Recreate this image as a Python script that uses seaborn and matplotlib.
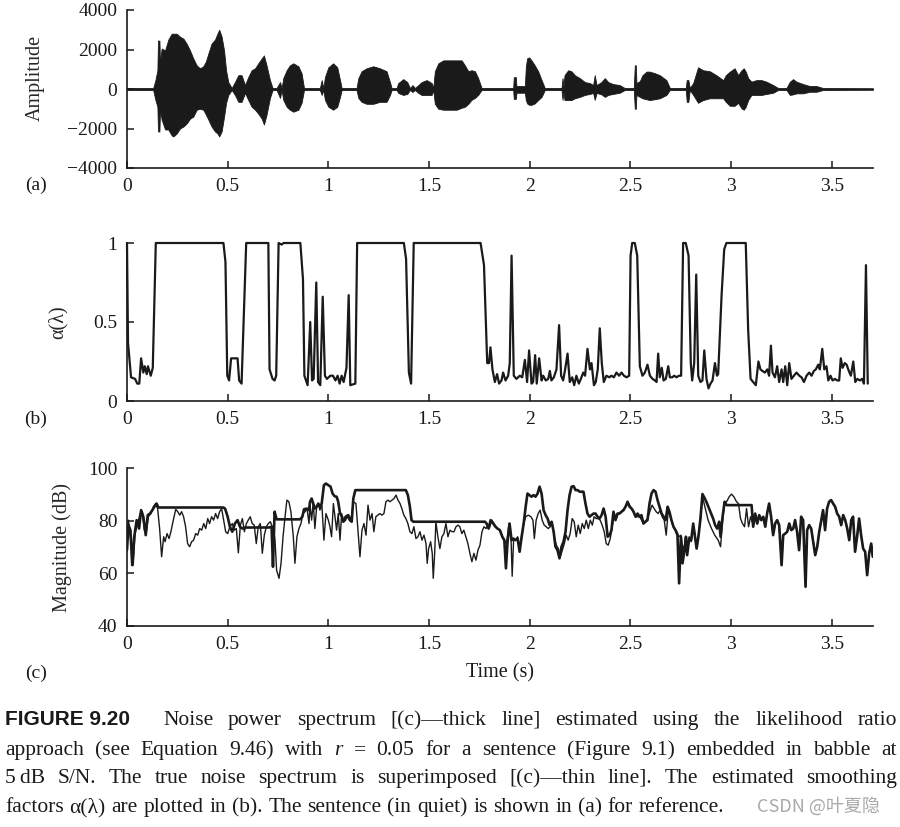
import numpy as np
import pandas as pd
import seaborn as sns
import matplotlib.pyplot as plt
from matplotlib.ticker import FuncFormatter

# (a) speech waveform, read as upper/lower envelope (amplitude)
wave_t = [0.000, 0.130, 0.141, 0.151, 0.154, 0.161, 0.164, 0.172, 0.189, 0.205, 0.222, 0.230, 0.247,
          0.263, 0.280, 0.296, 0.313, 0.329, 0.346, 0.362, 0.379, 0.392, 0.404, 0.420, 0.437, 0.449,
          0.458, 0.470, 0.482, 0.492, 0.503, 0.520, 0.536, 0.553, 0.569, 0.586, 0.602, 0.619, 0.636,
          0.652, 0.669, 0.680, 0.693, 0.710, 0.723, 0.743, 0.760, 0.768, 0.776, 0.793, 0.809, 0.826,
          0.851, 0.867, 0.879, 0.958, 0.967, 0.975, 0.983, 1.000, 1.024, 1.044, 1.058, 1.066, 1.140,
          1.149, 1.165, 1.190, 1.223, 1.256, 1.289, 1.306, 1.314, 1.339, 1.347, 1.372, 1.392, 1.405,
          1.418, 1.430, 1.447, 1.463, 1.488, 1.513, 1.521, 1.529, 1.546, 1.571, 1.604, 1.637, 1.662,
          1.678, 1.695, 1.711, 1.728, 1.744, 1.761,
          1.900, 1.918, 1.921, 1.931, 1.934, 1.976, 1.981, 1.987, 1.997, 2.009, 2.025, 2.042, 2.059,
          2.075, 2.158, 2.163, 2.168, 2.173, 2.191, 2.207, 2.224, 2.249, 2.274, 2.299, 2.315, 2.323,
          2.332, 2.356, 2.373, 2.390, 2.414, 2.447, 2.472, 2.517, 2.522, 2.527, 2.530, 2.547, 2.560,
          2.580, 2.596, 2.621, 2.646, 2.679, 2.696, 2.775, 2.780, 2.788, 2.795, 2.812, 2.836, 2.861,
          2.894, 2.927, 2.961, 2.974, 2.994, 3.018, 3.035, 3.052, 3.063, 3.073, 3.085, 3.101, 3.126,
          3.151, 3.176, 3.209, 3.234, 3.275, 3.292, 3.308, 3.325, 3.358, 3.391, 3.424, 3.457, 3.705]
wave_hi = [50, 50, 450, 950, 2450, 2450, 1300, 2050, 1950, 2500, 2800, 2800, 2800,
           2650, 2550, 2300, 1950, 1550, 1200, 1050, 1150, 1400, 1800, 2300, 2500, 2800,
           3000, 2650, 1950, 950, 350, 50, 350, 700, 700, 200, 600, 950, 1050,
           1300, 1550, 1700, 1200, 450, 50, 50, 350, 50, 550, 950, 1200, 1300,
           1150, 800, 50, 50, 450, 50, 600, 1100, 1300, 1100, 450, 50, 50,
           550, 900, 1050, 1150, 1050, 900, 350, 50, 50, 300, 500, 350, 50,
           200, 50, 200, 350, 450, 300, 50, 900, 1300, 1450, 1450, 1450, 1450,
           1200, 900, 950, 900, 550, 50,
           50, 50, 600, 600, 150, 150, 1130, 1550, 1600, 1450, 1200, 900, 450,
           50, 50, 550, 150, 700, 950, 900, 700, 550, 350, 300, 200, 700,
           200, 350, 550, 350, 250, 200, 50, 50, 1200, 1200, 300, 400, 700,
           880, 880, 800, 700, 450, 50, 50, 450, 450, 50, 300, 1100, 950,
           900, 700, 450, 700, 880, 1050, 700, 950, 1050, 880, 550, 370, 450,
           450, 370, 200, 50, 50, 370, 500, 370, 250, 150, 150, 50, 40]
wave_lo = [-50, -50, -550, -900, -2150, -2150, -1050, -1550, -2050, -2050, -2350, -2400, -2250,
           -2000, -1900, -1750, -1500, -1400, -1050, -1000, -1050, -1300, -1550, -1900, -2150, -2250,
           -2400, -2150, -1400, -700, -300, -50, -300, -650, -650, -200, -550, -900, -1050,
           -1250, -1500, -1800, -1300, -450, -50, -50, -450, -50, -550, -900, -1050, -1150,
           -1050, -700, -50, -50, -300, -50, -550, -900, -1050, -900, -400, -50, -50,
           -450, -650, -750, -750, -650, -650, -300, -50, -50, -200, -300, -250, -50,
           -150, -50, -200, -300, -300, -300, -50, -750, -1000, -1050, -1050, -1050, -950,
           -900, -750, -550, -450, -300, -50,
           -50, -50, -500, -500, -190, -190, -560, -730, -800, -800, -730, -560, -400,
           -50, -50, -550, -150, -560, -560, -560, -470, -400, -300, -250, -200, -550,
           -200, -270, -400, -300, -250, -190, -50, -50, -1000, -1000, -300, -400, -470,
           -520, -560, -520, -470, -300, -50, -50, -650, -650, -50, -300, -700, -560,
           -470, -470, -470, -650, -850, -850, -700, -980, -1050, -900, -560, -300, -300,
           -300, -250, -190, -50, -50, -300, -270, -220, -220, -140, -140, -50, -40]

# (b) estimated smoothing factor alpha(lambda)
alpha_t = [0.000, 0.005, 0.020, 0.040, 0.051, 0.061, 0.070, 0.081, 0.088, 0.098, 0.104, 0.118, 0.128,
           0.143, 0.479, 0.489, 0.498, 0.507, 0.517, 0.537, 0.549, 0.557, 0.569, 0.592, 0.702, 0.708,
           0.723, 0.733, 0.741, 0.753, 0.768, 0.778, 0.861, 0.874, 0.881, 0.897, 0.910, 0.919, 0.927,
           0.940, 0.949, 0.960, 0.972, 0.983, 0.993, 1.010, 1.023, 1.035, 1.046, 1.056, 1.066, 1.076,
           1.090, 1.101, 1.109, 1.134, 1.143, 1.375, 1.386, 1.400, 1.411, 1.424, 1.756, 1.773, 1.789,
           1.798, 1.805, 1.815, 1.827, 1.838, 1.848, 1.860, 1.868, 1.880, 1.893, 1.901, 1.910, 1.921,
           1.934, 1.951, 1.963, 1.976, 1.987, 1.997, 2.009, 2.017, 2.027, 2.035, 2.047, 2.059, 2.067,
           2.080, 2.092, 2.100, 2.108, 2.120, 2.133, 2.146, 2.156, 2.166, 2.176, 2.188, 2.199, 2.211,
           2.221, 2.232, 2.244, 2.254, 2.266, 2.275, 2.287, 2.299, 2.307, 2.319, 2.328, 2.338, 2.348,
           2.358, 2.368, 2.381, 2.395, 2.406, 2.418, 2.431, 2.444, 2.456, 2.468, 2.481, 2.494, 2.501,
           2.509, 2.522, 2.534, 2.547, 2.560, 2.572, 2.585, 2.597, 2.610, 2.622, 2.630, 2.638, 2.646,
           2.656, 2.665, 2.676, 2.688, 2.696, 2.708, 2.718, 2.729, 2.741, 2.752, 2.762, 2.775, 2.789,
           2.800, 2.807, 2.817, 2.827, 2.837, 2.848, 2.858, 2.867, 2.878, 2.888, 2.898, 2.908, 2.920,
           2.930, 2.936, 2.953, 2.966, 2.977, 3.073, 3.085, 3.097, 3.110, 3.123, 3.136, 3.146, 3.156,
           3.168, 3.180, 3.189, 3.198, 3.206, 3.218, 3.229, 3.239, 3.251, 3.259, 3.269, 3.279, 3.289,
           3.300, 3.312, 3.325, 3.339, 3.350, 3.362, 3.375, 3.388, 3.400, 3.411, 3.421, 3.433, 3.441,
           3.453, 3.463, 3.474, 3.483, 3.494, 3.504, 3.516, 3.527, 3.537, 3.545, 3.554, 3.565, 3.574,
           3.585, 3.595, 3.607, 3.617, 3.627, 3.640, 3.651, 3.660, 3.670, 3.679]
alpha_v = [1.00, 0.37, 0.15, 0.14, 0.11, 0.11, 0.27, 0.18, 0.22, 0.17, 0.22, 0.16, 0.21,
           1.00, 1.00, 0.88, 0.16, 0.13, 0.27, 0.27, 0.27, 0.13, 0.11, 1.00, 1.00, 0.20,
           0.14, 0.13, 0.16, 1.00, 0.99, 1.00, 1.00, 0.77, 0.16, 0.10, 0.50, 0.13, 0.14,
           0.75, 0.12, 0.10, 0.66, 0.16, 0.14, 0.16, 0.16, 0.13, 0.16, 0.11, 0.16, 0.12,
           0.21, 0.67, 0.10, 0.11, 1.00, 1.00, 0.90, 0.18, 0.11, 1.00, 1.00, 0.86, 0.24,
           0.24, 0.34, 0.20, 0.12, 0.17, 0.11, 0.13, 0.18, 0.13, 0.16, 0.24, 0.92, 0.16,
           0.14, 0.16, 0.15, 0.26, 0.12, 0.32, 0.11, 0.12, 0.29, 0.11, 0.27, 0.13, 0.16,
           0.13, 0.14, 0.19, 0.13, 0.15, 0.20, 0.48, 0.16, 0.13, 0.20, 0.30, 0.12, 0.15,
           0.10, 0.16, 0.11, 0.14, 0.18, 0.16, 0.33, 0.20, 0.24, 0.10, 0.12, 0.20, 0.46,
           0.24, 0.12, 0.16, 0.15, 0.16, 0.15, 0.18, 0.16, 0.18, 0.16, 0.15, 0.16, 0.92,
           1.00, 1.00, 0.92, 0.22, 0.16, 0.18, 0.23, 0.16, 0.14, 0.13, 0.12, 0.30, 0.15,
           0.21, 0.13, 0.14, 0.22, 0.15, 0.15, 0.16, 0.15, 0.16, 0.16, 1.00, 1.00, 0.92,
           0.24, 0.13, 0.24, 0.80, 0.16, 0.12, 0.13, 0.32, 0.14, 0.08, 0.11, 0.13, 0.24,
           0.16, 0.17, 0.67, 0.96, 1.00, 1.00, 0.45, 0.14, 0.12, 0.10, 0.25, 0.20, 0.19,
           0.18, 0.20, 0.16, 0.35, 0.18, 0.15, 0.22, 0.12, 0.20, 0.12, 0.22, 0.10, 0.24,
           0.14, 0.16, 0.18, 0.16, 0.15, 0.12, 0.16, 0.18, 0.16, 0.19, 0.20, 0.23, 0.20,
           0.33, 0.20, 0.22, 0.13, 0.16, 0.13, 0.14, 0.13, 0.13, 0.27, 0.21, 0.24, 0.23,
           0.19, 0.16, 0.25, 0.12, 0.14, 0.13, 0.14, 0.11, 0.86, 0.11]

# (c) estimated noise spectrum (thick) and true noise spectrum (thin), dB
est_t = [0.000, 0.007, 0.017, 0.026, 0.036, 0.048, 0.060, 0.070, 0.081, 0.093, 0.103, 0.114, 0.126,
         0.136, 0.147, 0.156, 0.478, 0.487, 0.500, 0.511, 0.523, 0.536, 0.549, 0.561, 0.573, 0.586,
         0.705, 0.718, 0.725, 0.733, 0.743, 0.859, 0.871, 0.879, 0.892, 0.904, 0.909, 0.917, 0.925,
         0.933, 0.942, 0.950, 0.958, 0.967, 0.978, 0.988, 1.000, 1.011, 1.021, 1.031, 1.041, 1.049,
         1.058, 1.068, 1.074, 1.082, 1.091, 1.099, 1.107, 1.116, 1.124, 1.134, 1.385, 1.395, 1.405,
         1.413, 1.422, 1.778, 1.786, 1.796, 1.806, 1.819, 1.830, 1.840, 1.852, 1.864, 1.874, 1.882,
         1.890, 1.900, 1.910, 1.920, 1.930, 1.940, 1.950, 1.960, 1.970, 1.980, 1.989, 1.999, 2.009,
         2.019, 2.029, 2.039, 2.049, 2.059, 2.069, 2.079, 2.089, 2.099, 2.109, 2.119, 2.128, 2.138,
         2.148, 2.158, 2.168, 2.178, 2.188, 2.198, 2.208, 2.218, 2.228, 2.238, 2.248, 2.258, 2.267,
         2.277, 2.287, 2.297, 2.307, 2.317, 2.327, 2.337, 2.347, 2.357, 2.367, 2.377, 2.387, 2.397,
         2.406, 2.416, 2.426, 2.436, 2.446, 2.456, 2.466, 2.476, 2.486, 2.496, 2.506, 2.516, 2.526,
         2.536, 2.546, 2.555, 2.565, 2.575, 2.585, 2.595, 2.605, 2.615, 2.625, 2.635, 2.645, 2.655,
         2.665, 2.675, 2.685, 2.694, 2.704, 2.714, 2.724, 2.734, 2.742, 2.751, 2.759, 2.771, 2.776,
         2.782, 2.792, 2.802, 2.812, 2.820, 2.829, 2.838, 2.848, 2.858, 2.870, 2.881, 2.891, 2.901,
         2.911, 2.921, 2.931, 2.941, 2.948, 2.958, 2.968, 2.978, 3.102, 3.110, 3.120, 3.130, 3.140,
         3.150, 3.160, 3.170, 3.179, 3.189, 3.199, 3.209, 3.219, 3.229, 3.239, 3.251, 3.259, 3.269,
         3.279, 3.289, 3.299, 3.309, 3.318, 3.328, 3.338, 3.348, 3.358, 3.370, 3.378, 3.388, 3.398,
         3.408, 3.418, 3.428, 3.438, 3.448, 3.457, 3.467, 3.477, 3.487, 3.497, 3.507, 3.517, 3.527,
         3.537, 3.547, 3.557, 3.567, 3.577, 3.587, 3.597, 3.606, 3.616, 3.626, 3.636, 3.646, 3.656,
         3.666, 3.676, 3.686, 3.696, 3.704]
est_db = [68.8, 78.3, 76.4, 63.1, 73.9, 80.2, 77.0, 84.0, 81.5, 74.5, 82.1, 82.7, 84.0,
          85.3, 86.5, 85.0, 85.0, 84.6, 81.5, 77.7, 75.8, 78.9, 80.2, 77.7, 77.0, 77.4,
          77.4, 77.7, 62.5, 83.4, 80.5, 80.5, 81.5, 84.3, 84.6, 84.0, 87.2, 88.4, 86.5,
          84.6, 85.3, 86.5, 85.3, 86.5, 93.5, 94.1, 93.5, 92.9, 90.3, 89.3, 89.1, 87.2,
          82.7, 81.5, 79.6, 80.2, 81.5, 82.1, 80.2, 79.6, 88.4, 91.6, 91.6, 89.7, 85.3,
          80.2, 79.6, 79.6, 78.9, 77.0, 80.2, 78.9, 77.7, 77.0, 76.4, 73.9, 72.6, 61.9,
          72.0, 78.9, 72.6, 73.2, 72.6, 73.2, 68.2, 73.9, 78.9, 85.3, 90.3, 89.7, 89.1,
          89.7, 89.1, 90.3, 92.9, 90.3, 84.0, 82.1, 80.8, 78.3, 79.6, 75.8, 70.1, 68.8,
          65.7, 70.1, 72.0, 75.8, 84.0, 89.7, 92.9, 93.1, 91.6, 91.6, 91.0, 91.0, 91.0,
          86.5, 82.7, 81.5, 82.1, 82.7, 82.7, 81.5, 80.8, 82.1, 84.6, 81.5, 73.9, 74.5,
          76.4, 83.4, 80.2, 82.7, 82.7, 83.4, 84.0, 85.3, 87.2, 85.3, 84.6, 83.4, 81.5,
          82.7, 81.5, 82.1, 78.9, 79.6, 80.2, 86.5, 90.3, 91.6, 91.0, 87.8, 85.3, 82.7,
          81.5, 80.2, 85.3, 83.4, 80.2, 77.7, 76.4, 74.5, 56.2, 73.9, 63.8, 70.1, 73.9,
          66.9, 73.2, 72.6, 78.9, 74.5, 69.4, 73.9, 80.8, 90.1, 88.4, 86.5, 84.6, 82.7,
          80.8, 78.3, 77.0, 79.6, 73.9, 81.5, 87.2, 85.9, 85.9, 77.7, 82.7, 78.9, 82.1,
          80.2, 81.5, 77.7, 82.7, 86.5, 81.5, 74.5, 78.9, 80.2, 78.3, 63.1, 74.5, 75.1,
          75.8, 78.9, 76.4, 77.0, 80.2, 75.8, 68.8, 81.5, 80.2, 54.9, 76.4, 78.3, 77.0,
          72.0, 66.9, 70.1, 75.8, 80.2, 84.0, 76.4, 84.6, 87.2, 87.8, 86.5, 85.3, 82.7,
          81.5, 78.3, 82.1, 80.2, 77.0, 72.6, 80.2, 81.5, 68.2, 73.9, 80.8, 74.5, 69.4,
          68.2, 59.3, 67.6, 71.3, 66.3]

true_t = [0.000, 0.007, 0.013, 0.023, 0.031, 0.040, 0.053, 0.065, 0.076, 0.086, 0.096, 0.106, 0.119,
          0.131, 0.142, 0.152, 0.162, 0.172, 0.182, 0.189, 0.199, 0.209, 0.218, 0.230, 0.242, 0.252,
          0.262, 0.271, 0.281, 0.291, 0.301, 0.311, 0.321, 0.331, 0.341, 0.351, 0.361, 0.371, 0.381,
          0.391, 0.401, 0.410, 0.420, 0.430, 0.440, 0.450, 0.460, 0.470, 0.480, 0.490, 0.500, 0.511,
          0.523, 0.533, 0.543, 0.553, 0.563, 0.573, 0.583, 0.593, 0.602, 0.612, 0.622, 0.632, 0.642,
          0.652, 0.662, 0.672, 0.682, 0.692, 0.702, 0.712, 0.728, 0.735, 0.743, 0.755, 0.765, 0.775,
          0.785, 0.794, 0.804, 0.814, 0.826, 0.834, 0.844, 0.854, 0.864, 0.874, 0.884, 0.894, 0.904,
          0.909, 0.917, 0.925, 0.933, 0.942, 0.950, 0.958, 0.968, 0.978, 0.988, 1.000, 1.008, 1.016,
          1.025, 1.033, 1.041, 1.049, 1.058, 1.066, 1.074, 1.082, 1.091, 1.099, 1.107, 1.116, 1.124,
          1.137, 1.147, 1.157, 1.167, 1.177, 1.187, 1.197, 1.207, 1.217, 1.226, 1.236, 1.246, 1.256,
          1.266, 1.276, 1.286, 1.296, 1.306, 1.316, 1.326, 1.336, 1.346, 1.356, 1.365, 1.375, 1.385,
          1.395, 1.405, 1.415, 1.425, 1.435, 1.445, 1.455, 1.465, 1.475, 1.485, 1.491, 1.498, 1.508,
          1.516, 1.521, 1.528, 1.534, 1.544, 1.554, 1.564, 1.574, 1.584, 1.594, 1.604, 1.614, 1.624,
          1.634, 1.644, 1.653, 1.663, 1.673, 1.683, 1.693, 1.703, 1.713, 1.723, 1.733, 1.743, 1.753,
          1.763, 1.773, 1.783, 1.793, 1.802, 1.812, 1.822, 1.840, 1.852, 1.864, 1.874, 1.885, 1.897,
          1.907, 1.913, 1.920, 1.930, 1.940, 1.950, 1.960, 1.970, 1.980, 1.993, 2.006, 2.016, 2.023,
          2.032, 2.042, 2.052, 2.062, 2.072, 2.082, 2.092, 2.102, 2.112, 2.122, 2.132, 2.142, 2.152,
          2.162, 2.172, 2.181, 2.191, 2.201, 2.211, 2.221, 2.231, 2.241, 2.251, 2.261, 2.271, 2.281,
          2.291, 2.301, 2.311, 2.320, 2.330, 2.340, 2.350, 2.360, 2.370, 2.380, 2.390, 2.400, 2.410,
          2.420, 2.430, 2.440, 2.456, 2.476, 2.486, 2.506, 2.526, 2.546, 2.565, 2.585, 2.599, 2.608,
          2.618, 2.628, 2.638, 2.648, 2.658, 2.668, 2.678, 2.688, 2.698, 2.714, 2.731, 2.741, 2.751,
          2.761, 2.771, 2.776, 2.782, 2.792, 2.802, 2.812, 2.820, 2.829, 2.838, 2.848, 2.858, 2.870,
          2.886, 2.903, 2.919, 2.936, 2.948, 2.958, 2.968, 2.978, 2.991, 3.002, 3.014, 3.027, 3.037,
          3.047, 3.057, 3.067, 3.077, 3.087, 3.097, 3.110, 3.120, 3.130, 3.140, 3.150, 3.160, 3.170,
          3.179, 3.189, 3.199, 3.209, 3.219, 3.229, 3.239, 3.251, 3.259, 3.269, 3.279, 3.289, 3.299,
          3.309, 3.318, 3.328, 3.338, 3.348, 3.358, 3.370, 3.378, 3.388, 3.398, 3.408, 3.418, 3.428,
          3.438, 3.448, 3.457, 3.467, 3.477, 3.487, 3.497, 3.507, 3.517, 3.527, 3.537, 3.547, 3.557,
          3.567, 3.577, 3.587, 3.597, 3.606, 3.616, 3.626, 3.636, 3.646, 3.656, 3.666, 3.676, 3.686,
          3.696, 3.704]
true_db = [73.9, 80.2, 77.0, 68.8, 63.1, 75.1, 78.9, 82.7, 83.4, 76.4, 75.8, 81.5, 82.7,
           85.3, 86.5, 84.6, 77.0, 66.3, 73.9, 72.0, 75.1, 73.2, 75.8, 80.2, 84.3, 83.4,
           82.1, 83.4, 81.5, 77.7, 71.3, 70.1, 72.0, 72.6, 75.1, 74.5, 77.0, 76.4, 78.9,
           77.0, 80.8, 78.9, 81.5, 80.2, 82.7, 80.8, 83.4, 84.6, 80.2, 75.8, 75.1, 77.7,
           78.9, 76.4, 77.0, 67.8, 78.3, 80.8, 75.8, 78.9, 80.2, 81.5, 78.9, 78.3, 71.3,
           77.7, 78.9, 67.6, 74.5, 77.7, 78.9, 79.6, 76.4, 72.6, 61.2, 58.1, 63.8, 73.9,
           81.5, 87.8, 87.2, 83.4, 73.9, 63.8, 73.9, 77.0, 78.9, 82.7, 83.4, 84.6, 78.9,
           86.0, 80.2, 87.2, 77.0, 85.3, 86.5, 84.0, 85.9, 72.6, 82.7, 80.2, 77.7, 73.9,
           86.5, 81.5, 76.4, 82.7, 72.6, 82.7, 79.6, 81.5, 82.1, 80.8, 80.2, 82.1, 87.2,
           86.5, 76.4, 66.3, 76.4, 78.9, 74.5, 85.9, 80.2, 82.7, 75.8, 81.5, 82.1, 82.7,
           82.1, 82.7, 87.2, 87.8, 87.2, 87.8, 88.4, 89.7, 87.8, 86.5, 84.6, 82.1, 80.8,
           78.9, 75.8, 75.1, 77.7, 73.2, 73.9, 75.8, 72.6, 74.5, 71.3, 63.8, 69.4, 72.0,
           67.6, 58.1, 67.6, 79.6, 73.9, 69.4, 73.9, 75.1, 78.9, 73.9, 76.4, 75.8, 75.8,
           77.7, 78.3, 77.7, 75.1, 76.4, 73.9, 71.3, 67.6, 64.4, 67.6, 65.0, 68.8, 70.7,
           75.8, 77.7, 77.0, 78.3, 77.7, 80.2, 78.9, 77.0, 76.4, 73.9, 72.6, 71.3, 78.9,
           73.9, 58.9, 72.6, 72.6, 73.9, 70.1, 73.9, 78.9, 81.5, 82.1, 81.5, 80.2, 73.2,
           80.2, 82.7, 84.0, 80.2, 78.3, 77.7, 77.0, 77.7, 78.9, 73.9, 70.7, 69.4, 66.3,
           68.8, 71.3, 74.5, 72.6, 75.1, 80.8, 79.6, 73.9, 78.3, 75.1, 78.9, 77.0, 80.2,
           77.0, 80.2, 78.3, 81.5, 80.8, 80.8, 80.2, 78.3, 75.8, 71.3, 70.7, 73.2, 77.7,
           82.7, 80.8, 82.7, 83.4, 85.3, 87.2, 84.6, 81.5, 81.5, 78.9, 80.8, 84.0, 85.9,
           84.6, 83.4, 82.7, 84.0, 81.5, 80.2, 74.5, 84.0, 81.5, 77.7, 75.8, 73.9, 74.5,
           68.8, 71.3, 72.6, 67.6, 73.9, 72.0, 78.3, 75.1, 70.1, 74.5, 80.2, 89.1, 85.3,
           80.2, 77.0, 74.5, 72.6, 70.1, 80.2, 86.5, 87.2, 89.1, 90.1, 89.1, 87.2, 86.5,
           80.8, 78.9, 77.7, 84.6, 77.7, 81.5, 78.3, 82.1, 78.9, 82.1, 80.2, 81.5, 77.7,
           82.7, 86.5, 81.5, 74.5, 78.9, 80.2, 78.3, 63.1, 74.5, 75.1, 75.8, 78.9, 76.4,
           77.0, 80.2, 75.8, 68.8, 81.5, 80.2, 54.9, 76.4, 78.3, 77.0, 72.0, 66.9, 70.1,
           75.8, 80.2, 84.0, 76.4, 84.6, 87.2, 87.8, 86.5, 85.3, 82.7, 81.5, 78.3, 82.1,
           80.2, 77.0, 72.6, 80.2, 81.5, 68.2, 73.9, 80.8, 74.5, 69.4, 68.2, 59.3, 67.6,
           71.3, 66.3]

x_ticks = [0, 0.5, 1, 1.5, 2, 2.5, 3, 3.5]
ink = '#1a1a1a'

sns.set_style('ticks')
plt.rcParams['font.family'] = ['Liberation Serif', 'DejaVu Serif']
plt.rcParams['axes.unicode_minus'] = True

fig = plt.figure(figsize=(9, 8.27), dpi=100)
L, W, H = 127 / 900, 746 / 900, 158 / 827
ax_a = fig.add_axes([L, 1 - 168 / 827, W, H])
ax_b = fig.add_axes([L, 1 - 401 / 827, W, H])
ax_c = fig.add_axes([L, 1 - 626 / 827, W, H])

# (a) waveform
ax_a.fill_between(wave_t, wave_lo, wave_hi, color=ink, lw=0.6)
ax_a.set_ylim(-4000, 4000)
ax_a.set_yticks([-4000, -2000, 0, 2000, 4000])

# (b) alpha
sns.lineplot(x=alpha_t, y=alpha_v, ax=ax_b, color=ink, lw=1.6, sort=False, estimator=None)
ax_b.lines[-1].set_clip_on(False)
ax_b.set_ylim(0, 1)
ax_b.set_yticks([0, 0.5, 1])

# (c) spectra
sns.lineplot(x=true_t, y=true_db, ax=ax_c, color=ink, lw=1.0, sort=False, estimator=None)
sns.lineplot(x=est_t, y=est_db, ax=ax_c, color=ink, lw=1.9, sort=False, estimator=None)
ax_c.set_ylim(40, 100)
ax_c.set_yticks([40, 60, 80, 100])

fmt = FuncFormatter(lambda v, p: f'{v:g}'.replace('-', '\u2212'))
for ax in (ax_a, ax_b, ax_c):
    sns.despine(ax=ax)
    ax.set_xlim(0, 3.705)
    ax.set_xticks(x_ticks)
    ax.xaxis.set_major_formatter(fmt)
    ax.yaxis.set_major_formatter(fmt)
    ax.tick_params(direction='in', length=5, width=1.1, pad=7, labelsize=14, colors=ink)
    for s in ('left', 'bottom'):
        ax.spines[s].set_linewidth(1.2)
        ax.spines[s].set_color(ink)
    ax.set_xlabel('')

ax_a.set_ylabel('Amplitude', fontsize=14.5, va='center')
ax_a.yaxis.set_label_coords(-0.1233, 0.573)
ax_b.set_ylabel('\u03b1(\u03bb)', fontsize=14.5, va='center')
ax_b.yaxis.set_label_coords(-0.092, 0.5)
ax_c.set_ylabel('Magnitude (dB)', fontsize=14.5, va='center')
ax_c.yaxis.set_label_coords(-0.0871, 0.5)

for lab, yp in (('(a)', 185), ('(b)', 419), ('(c)', 673)):
    fig.text(36 / 900, 1 - yp / 827, lab, ha='center', va='center', fontsize=14, color=ink)
fig.text(500 / 900, 1 - 673 / 827, 'Time (s)', ha='center', va='center', fontsize=14.5, color=ink)

# caption, justified word by word
renderer = fig.canvas.get_renderer()
cap_fs = 15.5


def caption_line(ybase, words, x0, x1=None, fs=cap_fs):
    objs = []
    for w in words:
        txt, kw = (w if isinstance(w, tuple) else (w, {}))
        objs.append(fig.text(0, 1 - ybase / 827, txt, fontsize=fs, va='baseline', color=ink, **kw))
    widths = [o.get_window_extent(renderer).width for o in objs]
    if x1 is None:
        gap = 0.27 * fs * 100 / 72
    else:
        gap = (x1 - x0 - sum(widths)) / (len(objs) - 1)
    x = x0
    for o, w in zip(objs, widths):
        o.set_x(x / 900)
        x += w + gap


fig.text(5 / 900, 1 - 725 / 827, 'FIGURE 9.20', fontsize=15, va='baseline', weight='bold',
         family=['Liberation Sans Narrow', 'Liberation Sans'], color=ink)
caption_line(725, 'Noise power spectrum [(c)\u2014thick line] estimated using the likelihood ratio'.split(),
             163, 897)
caption_line(755, ['approach', '(see', 'Equation', '9.46)', 'with', ('r', {'style': 'italic'}), '=', '0.05',
                   'for', 'a', 'sentence', '(Figure', '9.1)', 'embedded', 'in', 'babble', 'at'], 5, 897)
caption_line(783, ['5\u2009dB', 'S/N.', 'The', 'true', 'noise', 'spectrum', 'is', 'superimposed',
                   '[(c)\u2014thin', 'line].', 'The', 'estimated', 'smoothing'], 5, 897)
caption_line(812, 'factors \u03b1(\u03bb) are plotted in (b). The sentence (in quiet) is shown in (a) for reference.'.split(),
             5)
fig.text(757 / 900, 1 - 812 / 827, 'CSDN @叶夏隐', fontsize=13, va='baseline', color='#a0a0a0', alpha=0.9,
         family=['Noto Sans CJK SC', 'DejaVu Sans'])

fig.savefig('out.png', dpi=100)
